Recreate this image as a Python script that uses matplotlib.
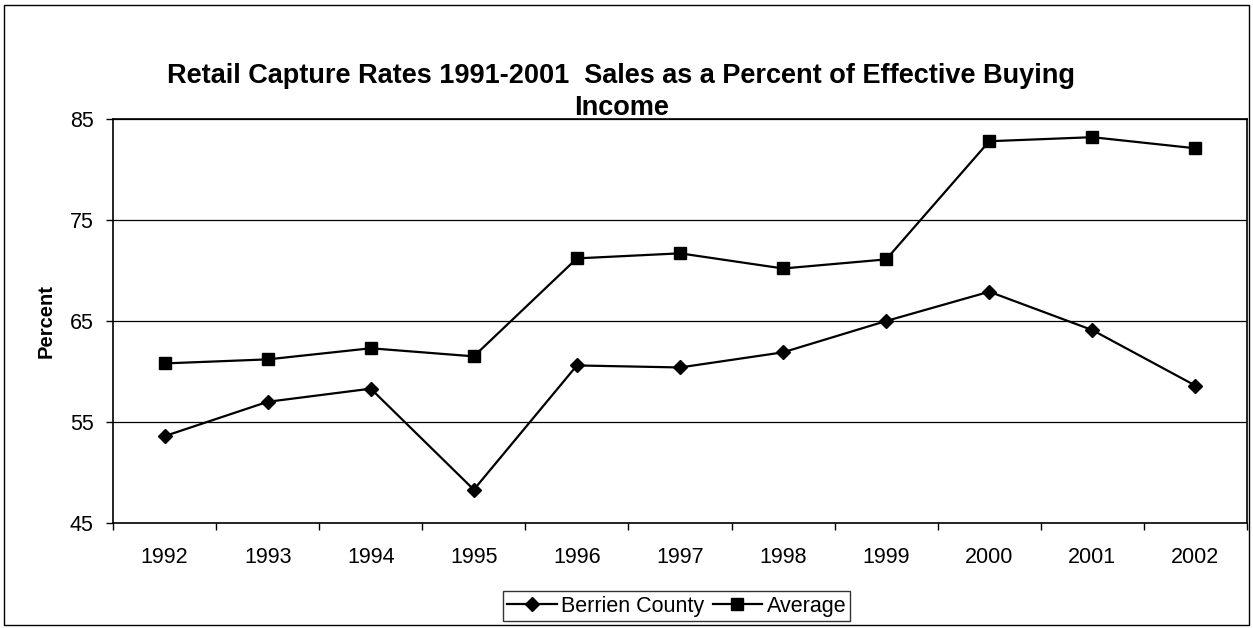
import matplotlib
matplotlib.use("Agg")
import matplotlib.pyplot as plt
from matplotlib.patches import Rectangle

plt.rcParams["font.family"] = ["Liberation Sans", "DejaVu Sans"]

years = ["1992", "1993", "1994", "1995", "1996", "1997",
         "1998", "1999", "2000", "2001", "2002"]
berrien = [53.6, 57.0, 58.3, 48.3, 60.6, 60.4, 61.9, 65.0, 67.9, 64.1, 58.6]
average = [60.8, 61.2, 62.3, 61.5, 71.2, 71.7, 70.2, 71.1, 82.8, 83.2, 82.1]
y_ticks = [45, 55, 65, 75, 85]

fig = plt.figure(figsize=(12.53, 6.28), dpi=100)
ax = fig.add_axes([0.0902, 0.1672, 0.9050, 0.6433])

x = list(range(len(years)))
ax.plot(x, berrien, color="black", lw=1.6, marker="D", markersize=7.5,
        label="Berrien County")
ax.plot(x, average, color="black", lw=1.6, marker="s", markersize=8.5,
        label="Average")

ax.set_xlim(-0.5, len(years) - 0.5)
ax.set_ylim(45, 85)
ax.set_yticks(y_ticks)
ax.set_xticks(x)
ax.set_xticklabels(years)
ax.set_xticks([i + 0.5 for i in range(-1, len(years))], minor=True)
ax.tick_params(axis="x", which="major", length=0, pad=17, labelsize=15.5)
ax.tick_params(axis="x", which="minor", length=5, direction="out", width=1)
ax.tick_params(axis="y", length=5, direction="out", width=1, labelsize=15.5, pad=9)
ax.yaxis.grid(True, color="black", lw=0.9)
ax.set_axisbelow(True)
for s in ax.spines.values():
    s.set_linewidth(1.2)
    s.set_color("black")

ax.set_ylabel("Percent", fontsize=14.5, fontweight="bold", labelpad=10)

fig.text(0.496, 0.853, "Retail Capture Rates 1991-2001  Sales as a Percent of Effective Buying\nIncome",
         ha="center", va="center", fontsize=19.5, fontweight="bold", linespacing=1.3)

leg = fig.legend(loc="center", bbox_to_anchor=(0.540, 0.035), ncol=2,
                 fontsize=15.5, frameon=True, fancybox=False, edgecolor="black",
                 handlelength=2.3, handletextpad=0.2, columnspacing=0.4,
                 borderpad=0.2, borderaxespad=0)
leg.get_frame().set_linewidth(1.0)

fig.patches.append(Rectangle((0.003, 0.004), 0.994, 0.988, transform=fig.transFigure,
                             fill=False, edgecolor="black", lw=1.0))

fig.savefig("out.png", dpi=100)
